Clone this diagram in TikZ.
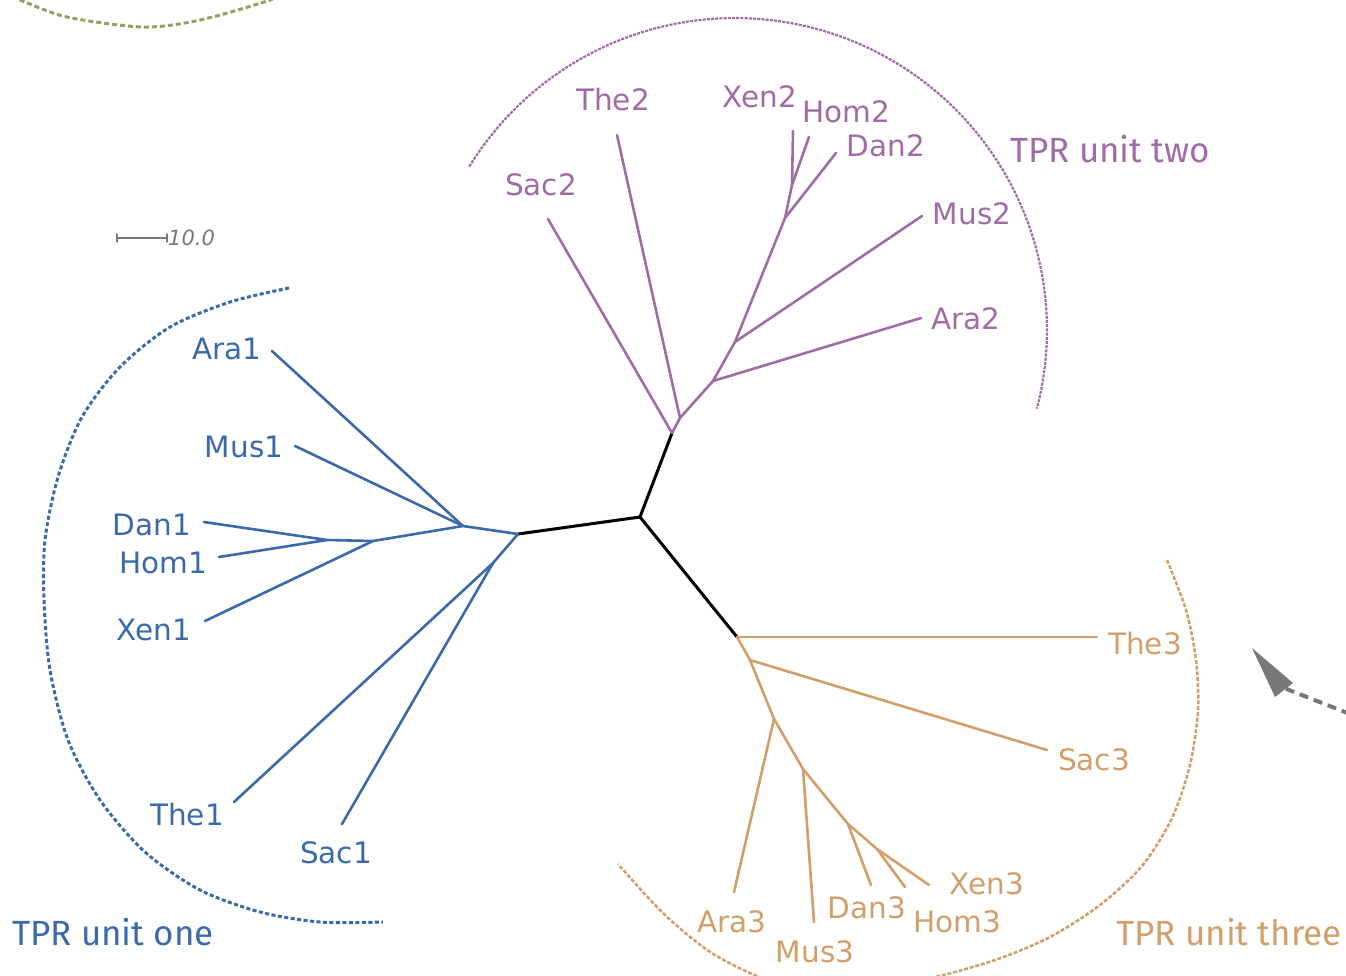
\documentclass[tikz,border=0pt]{standalone}
\usepackage{fontspec}
\setmainfont{DejaVu Sans}
\newfontfamily\tprfont{Fira Sans}
\definecolor{tblue}{RGB}{58,106,172}
\definecolor{tpurple}{RGB}{160,108,165}
\definecolor{torange}{RGB}{210,158,105}
\definecolor{tolive}{RGB}{150,160,100}
\definecolor{tgray}{RGB}{120,120,120}
\begin{document}
\begin{tikzpicture}[x=1pt,y=-1pt,line cap=round,line join=round,
  leaf/.style={font=\fontsize{29.5}{30}\selectfont,inner sep=0pt,anchor=center},
  unitlabel/.style={font=\tprfont\fontsize{35}{36}\selectfont,inner sep=0pt,anchor=center},
  br/.style={line width=2.6pt},
  core/.style={line width=3pt,black},
  grouparc/.style={line cap=butt}]
\useasboundingbox (0,0) rectangle (1346,975);
\clip (0,0) rectangle (1346,975);

% ---- group arcs
\draw[grouparc,tolive,line width=3pt,dash pattern=on 5pt off 3pt]
  plot[smooth] coordinates {(-10,-12) (20,0) (67,17) (143,27) (200,20) (270,0) (290,-12)};
\draw[grouparc,tblue,line width=3pt,dash pattern=on 4pt off 2.5pt]
  plot[smooth] coordinates {(289,288) (230,302) (170,327) (120,367) (82,417) (58,477) (45,540) (44,600) (50,670) (68,740) (100,800) (145,852) (200,890) (260,912) (320,922) (383,922)};
\draw[grouparc,tpurple,line width=2.2pt,dash pattern=on 3pt off 1.2pt]
  plot[domain=148.4:-14.6,samples=80] ({735+312*cos(\x)},{330-312*sin(\x)});
\draw[grouparc,torange,line width=2.5pt,dash pattern=on 4pt off 1.8pt]
  plot[smooth] coordinates {(1167,560) (1186,610) (1196,660) (1198,710) (1190,765) (1172,818) (1142,866) (1100,905) (1050,937) (995,960) (930,978) (850,990) (775,982) (715,955) (665,915) (618,864)};

% ---- core
\coordinate (C) at (640,517);
\coordinate (B0) at (518,534);
\coordinate (P0) at (672,433);
\coordinate (O0) at (737,637);
\draw[core] (B0) -- (C) -- (P0);
\draw[core] (C) -- (O0);

% ---- blue subtree
\coordinate (B1) at (463,526);
\coordinate (B2) at (493,563);
\coordinate (B3) at (373,541);
\coordinate (B4) at (327,540);
\coordinate (tAra1) at (272,351);
\coordinate (tMus1) at (295,446);
\coordinate (tDan1) at (204,522);
\coordinate (tHom1) at (219,557);
\coordinate (tXen1) at (205,621);
\coordinate (tThe1) at (234,802);
\coordinate (tSac1) at (342,824);
\begin{scope}[tblue,br]
\draw (B0) -- (B1) -- (B3) -- (B4) -- (tDan1);
\draw (B4) -- (tHom1);
\draw (B3) -- (tXen1);
\draw (B1) -- (tAra1);
\draw (B1) -- (tMus1);
\draw (B0) -- (B2) -- (tThe1);
\draw (B2) -- (tSac1);
\end{scope}
\begin{scope}[tblue]
\node[leaf] (Ara1) at (227,349) {Ara1};
\node[leaf] (Mus1) at (244,447) {Mus1};
\node[leaf] (Dan1) at (152,525) {Dan1};
\node[leaf] (Hom1) at (163,563) {Hom1};
\node[leaf] (Xen1) at (154,630) {Xen1};
\node[leaf] (The1) at (187,814) {The1};
\node[leaf] (Sac1) at (336,853) {Sac1};
\node[unitlabel] (U1) at (113,932) {TPR unit one};
\end{scope}

% ---- purple subtree
\coordinate (P1) at (680,418);
\coordinate (P2) at (713,381);
\coordinate (P3) at (735,342);
\coordinate (P4) at (785,218);
\coordinate (P5) at (792,185);
\coordinate (tSac2) at (548,219);
\coordinate (tThe2) at (617,135);
\coordinate (tAra2) at (921,318);
\coordinate (tMus2) at (922,216);
\coordinate (tDan2) at (836,153);
\coordinate (tXen2) at (793,131);
\coordinate (tHom2) at (809,137);
\begin{scope}[tpurple,br]
\draw (tSac2) -- (P0) -- (P1) -- (P2) -- (P3) -- (P4) -- (P5) -- (tXen2);
\draw (P5) -- (tHom2);
\draw (P4) -- (tDan2);
\draw (P3) -- (tMus2);
\draw (P2) -- (tAra2);
\draw (P1) -- (tThe2);
\end{scope}
\begin{scope}[tpurple]
\node[leaf] (Sac2) at (541,185) {Sac2};
\node[leaf] (The2) at (613,99) {The2};
\node[leaf] (Xen2) at (760,97) {Xen2};
\node[leaf] (Hom2) at (846,112) {Hom2};
\node[leaf] (Dan2) at (886,146) {Dan2};
\node[leaf] (Mus2) at (972,214) {Mus2};
\node[leaf] (Ara2) at (966,319) {Ara2};
\node[unitlabel] (U2) at (1110,149) {TPR unit two};
\end{scope}

% ---- orange subtree
\coordinate (O1) at (750,660);
\coordinate (O2) at (774,719);
\coordinate (O3) at (803,769);
\coordinate (O4) at (848,824);
\coordinate (O5) at (877,849);
\coordinate (tThe3) at (1097,637);
\coordinate (tSac3) at (1047,750);
\coordinate (tAra3) at (734,892);
\coordinate (tMus3) at (814,922);
\coordinate (tDan3) at (871,885);
\coordinate (tHom3) at (905,887);
\coordinate (tXen3) at (929,885);
\begin{scope}[torange,br]
\draw (O0) -- (tThe3);
\draw (O0) -- (O1) -- (O2) -- (O3) -- (O4) -- (O5) -- (tXen3);
\draw (O5) -- (tHom3);
\draw (O4) -- (tDan3);
\draw (O3) -- (tMus3);
\draw (O2) -- (tAra3);
\draw (O1) -- (tSac3);
\end{scope}
\begin{scope}[torange]
\node[leaf] (The3) at (1145,643) {The3};
\node[leaf] (Sac3) at (1094,760) {Sac3};
\node[leaf] (Ara3) at (732,922) {Ara3};
\node[leaf] (Mus3) at (815,952) {Mus3};
\node[leaf] (Dan3) at (867,908) {Dan3};
\node[leaf] (Hom3) at (957,922) {Hom3};
\node[leaf] (Xen3) at (987,884) {Xen3};
\node[unitlabel] (U3) at (1229,932) {TPR unit three};
\end{scope}

% ---- scale bar
\coordinate (sbA) at (117,238);
\coordinate (sbB) at (167,238);
\draw[tgray,line width=1.5pt] (sbA) -- (sbB);
\draw[tgray,line width=1.2pt] ([yshift=-4pt]sbA) -- ([yshift=4pt]sbA);
\draw[tgray,line width=1.2pt] ([yshift=-4pt]sbB) -- ([yshift=4pt]sbB);
\node[tgray,inner sep=0pt,anchor=west,font=\itshape\fontsize{21}{22}\selectfont] (sb) at (168,238) {10.0};

% ---- gray arrow
\coordinate (arS) at (1350,714);
\coordinate (arE) at (1284,688);
\coordinate (arT) at (1252,648);
\draw[tgray,line width=4pt,line cap=butt,dash pattern=on 9pt off 6pt] (arS) -- (arE);
\fill[tgray] (arT) -- (1275,697) -- (1293,683) -- cycle;
\end{tikzpicture}
\end{document}
